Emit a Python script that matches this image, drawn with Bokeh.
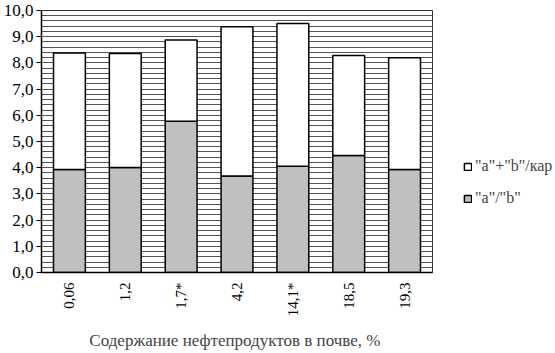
import numpy as np
from bokeh.plotting import figure
from bokeh.models import FactorRange, Range1d, FixedTicker, Legend, LegendItem, ColumnDataSource
from bokeh.embed import file_html
from bokeh.resources import INLINE

categories = ["0,06", "1,2", "1,7*", "4,2", "14,1*", "18,5", "19,3"]
a_over_b = [3.93, 4.01, 5.77, 3.68, 4.06, 4.47, 3.93]
ab_over_car = [4.45, 4.35, 3.10, 5.70, 5.44, 3.81, 4.27]
y_ticks = [0, 1, 2, 3, 4, 5, 6, 7, 8, 9, 10]
y_tick_labels = ["0,0", "1,0", "2,0", "3,0", "4,0", "5,0", "6,0", "7,0", "8,0", "9,0", "10,0"]
series_names = ['"a"/"b"', '"a"+"b"/кар']
x_title = "Содержание нефтепродуктов  в почве, %"

FONT = "Liberation Serif"

src = ColumnDataSource(dict(cat=categories, ab=a_over_b, abc=ab_over_car))

p = figure(x_range=FactorRange(*categories, range_padding=0), y_range=Range1d(0, 10),
           frame_width=391, frame_height=262,
           min_border_left=34, min_border_right=0, min_border_top=10, min_border_bottom=73,
           output_backend="svg", toolbar_location=None)

rs = p.vbar_stack(["ab", "abc"], x="cat", width=0.57, source=src,
                  fill_color=["#c0c0c0", "#ffffff"], line_color="black", line_width=1.5)

minor = [round(v, 1) for v in np.arange(0, 10.01, 0.2)]
p.yaxis.ticker = FixedTicker(ticks=y_ticks, minor_ticks=minor)
p.yaxis.major_label_overrides = {t: l for t, l in zip(y_ticks, y_tick_labels)}
p.ygrid.grid_line_color = "#555555"
p.ygrid.minor_grid_line_color = "#555555"
p.ygrid.grid_line_width = 1
p.ygrid.minor_grid_line_width = 1
p.xgrid.grid_line_color = None

p.outline_line_color = "#333333"
p.outline_line_width = 1

for ax in (p.xaxis[0], p.yaxis[0]):
    ax.axis_line_color = "black"
    ax.axis_line_width = 1.5
    ax.major_label_text_font = FONT
    ax.major_label_text_color = "black"
    ax.minor_tick_out = 0
    ax.minor_tick_in = 0
p.yaxis.major_tick_out = 5
p.yaxis.major_tick_in = 0
p.yaxis.major_label_text_font_size = "17px"
p.yaxis.major_label_standoff = 3
p.xaxis.major_tick_out = 0
p.xaxis.major_tick_in = 0
p.xaxis.major_label_orientation = np.pi / 2
p.xaxis.major_label_text_font_size = "15px"
p.xaxis.major_label_standoff = 10
p.xaxis.axis_label = x_title
p.xaxis.axis_label_text_font = FONT
p.xaxis.axis_label_text_font_style = "normal"
p.xaxis.axis_label_text_font_size = "17px"
p.xaxis.axis_label_standoff = 12

legend = Legend(items=[LegendItem(label=series_names[1], renderers=[rs[1]]),
                       LegendItem(label=series_names[0], renderers=[rs[0]])],
                location=(31, 65), padding=0, margin=0, spacing=14,
                glyph_width=9, glyph_height=9, label_height=18, label_standoff=3,
                label_text_font=FONT, label_text_font_size="16px",
                border_line_color=None, background_fill_alpha=0)
p.add_layout(legend, "right")
p.min_border_right = 122

open("out.html", "w").write(file_html(p, INLINE))
